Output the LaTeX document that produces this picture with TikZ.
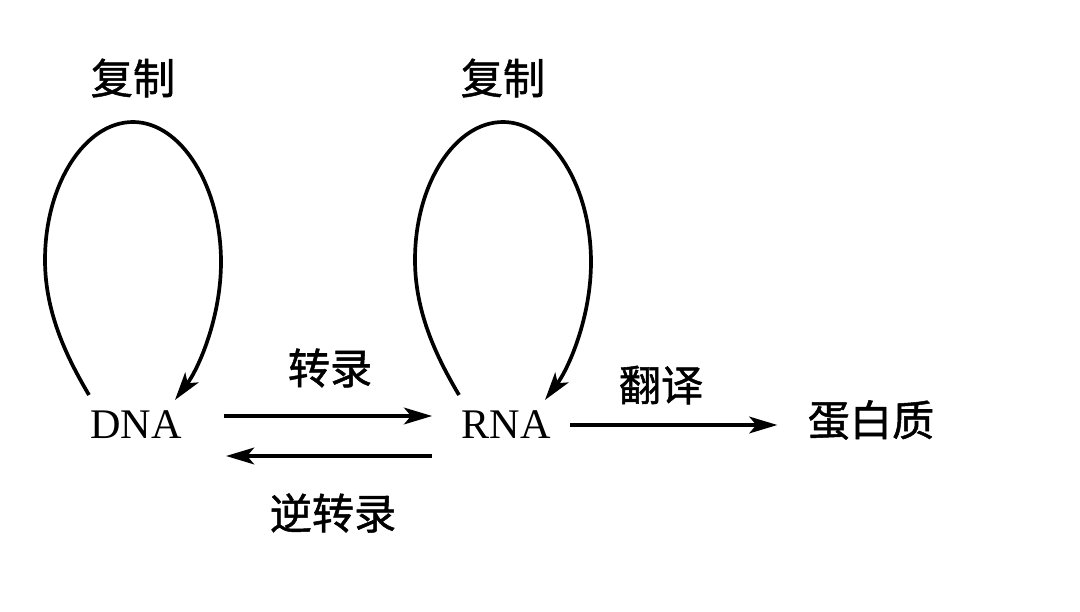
\documentclass[tikz,border=0pt]{standalone}
\usepackage{fontspec}
\setmainfont{Liberation Serif}
\newfontfamily\cjk[AutoFakeBold=1.2]{Noto Sans CJK SC}
\usetikzlibrary{arrows.meta}

\begin{document}
\begin{tikzpicture}[
  x=0.02cm, y=-0.02cm,
  term/.style={inner sep=0pt, font=\fontsize{24}{28}\selectfont},
  lbl/.style={inner sep=0pt, font=\fontsize{24}{28}\selectfont\cjk\bfseries},
  arr/.style={-{Stealth[length=16pt,width=9.5pt,inset=4pt]}, line width=2.1pt},
]
\useasboundingbox (0,0) rectangle (1080,612);
\node[term] (dna) at (136,425) {DNA};
\node[term] (rna) at (506,425) {RNA};
\node[lbl] (prot) at (871,420) {蛋白质};
\node[lbl] (dnarep) at (133,78) {复制};
\node[lbl] (rnarep) at (503,78) {复制};
\node[lbl] (trans) at (330,368) {转录};
\node[lbl] (rtrans) at (333,513) {逆转录};
\node[lbl] (transl) at (661,385) {翻译};

% replication loops
\foreach \n in {dna,rna}
  \draw[arr] ([shift={(-47,-30)}]\n.center) .. controls +(-20,-34) and +(0,55) .. ++(-44,-135)
    .. controls +(0,-76) and +(-48,0) .. ++(88,-138)
    .. controls +(48,0) and +(0,-76) .. ++(88,140)
    .. controls +(0,55) and +(24,-32) .. ++(-46,138);

% transcription, reverse transcription, translation
\draw[arr] ([shift={(42,-9)}]dna.east) -- ([shift={(-29,-9)}]rna.west);
\draw[arr] ([shift={(-29,31)}]rna.west) -- ([shift={(44,31)}]dna.east);
\draw[arr] ([xshift=19*0.02cm]rna.east) -- ([xshift=-30*0.02cm]rna.east -| prot.west);
\end{tikzpicture}
\end{document}
